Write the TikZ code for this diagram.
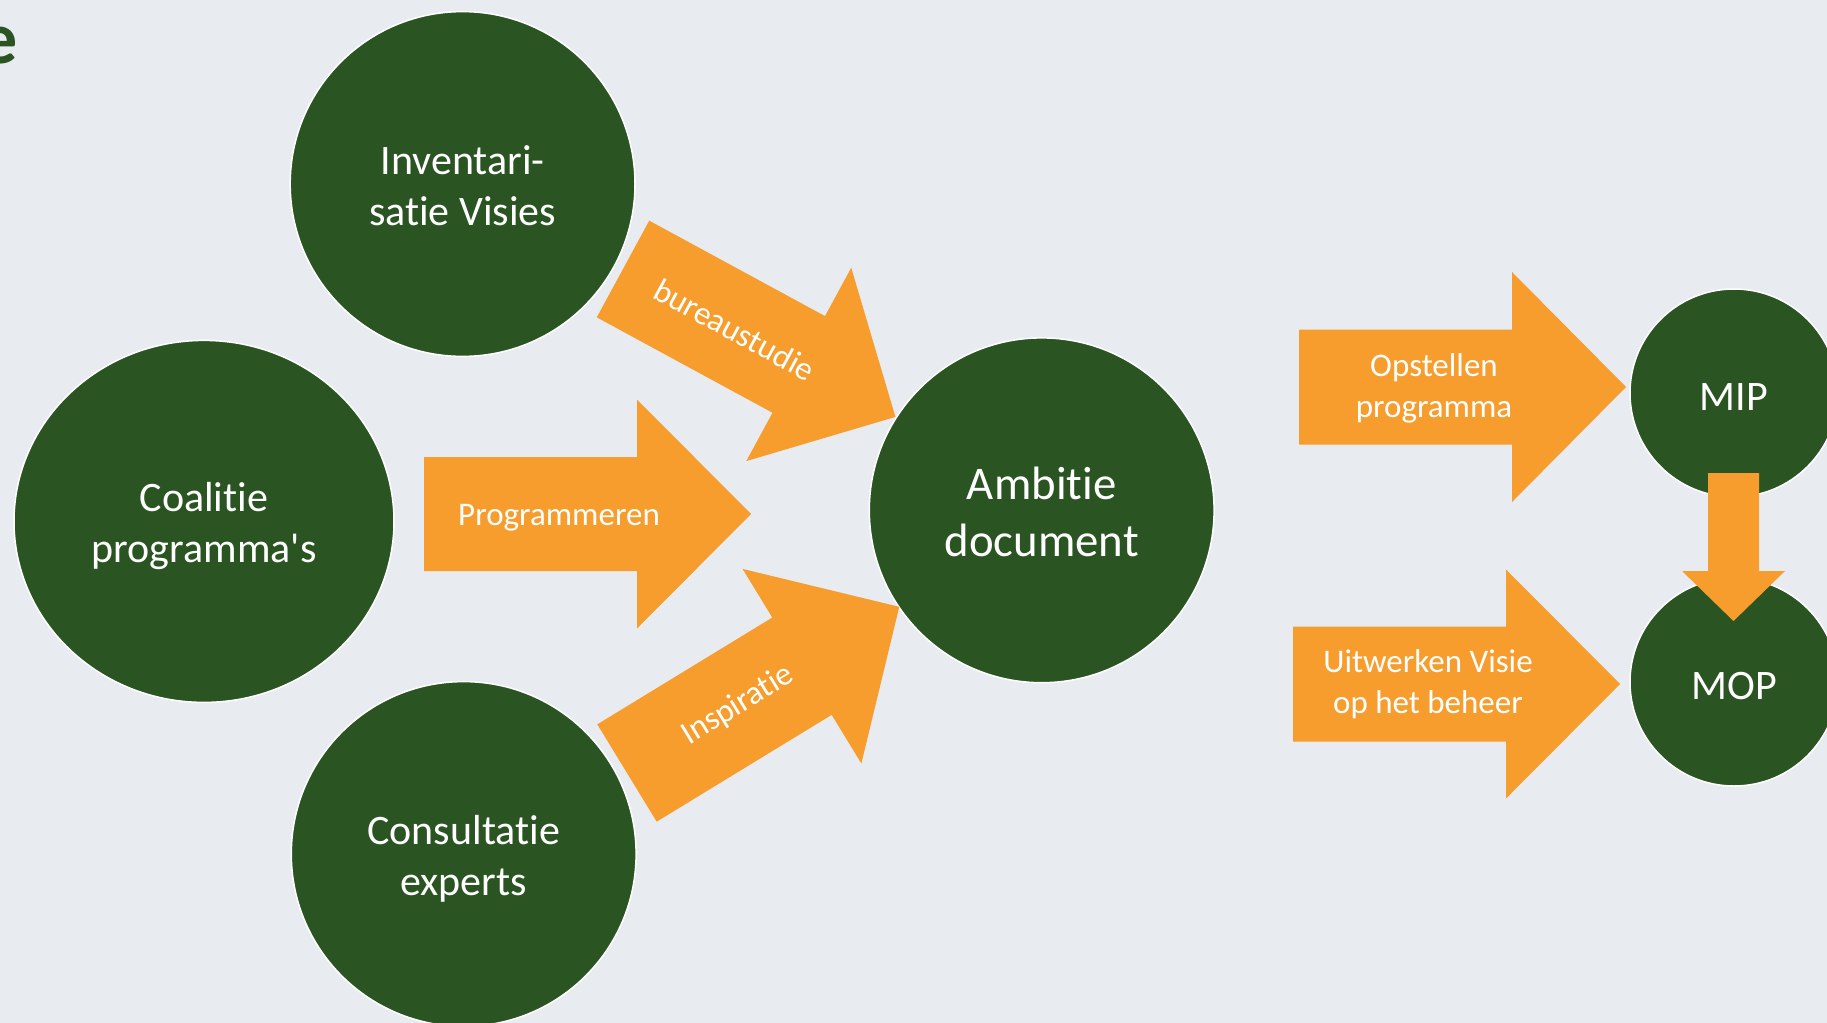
\documentclass[tikz,border=0pt]{standalone}
\usepackage{fontspec}
\setmainfont{Carlito}[Ligatures={NoCommon}]
\usetikzlibrary{shapes.geometric, positioning}

\definecolor{leafgreen}{RGB}{42,84,33}
\definecolor{flowOrange}{RGB}{246,157,46}
\definecolor{slidebg}{RGB}{232,235,240}

\begin{document}
\begin{tikzpicture}[x=0.5pt,y=-0.5pt,
  main node/.style={circle,fill=leafgreen,draw=white,line width=0.75pt,minimum size=172.4pt,inner sep=0pt},
  circle text/.style={text=white,align=center,inner sep=0pt,font=\fontsize{21}{25.6}\selectfont},
  arrow text/.style={text=white,align=center,inner sep=0pt,font=\fontsize{16.5}{20.4}\selectfont}]

        \useasboundingbox (0,0) rectangle (1827,1023);
        \clip (0,0) rectangle (1827,1023);
        \fill[slidebg] (0,0) rectangle (1827,1023);

        % cut off slide title
        \node[anchor=base east,inner sep=0pt,text=leafgreen,font=\bfseries\fontsize{37}{44}\selectfont] (title) at (18,63) {e};

        \node[main node,label={[circle text,yshift=-0.8pt]center:Inventari-\\satie Visies}] (inv) at (462.6,184) {};
        \node[main node,ellipse,minimum width=190pt,minimum height=181pt,
              label={[circle text,yshift=-2.4pt]center:Coalitie\\programma\textquotesingle s}] (coal) at (204,521.4) {};
        \node[main node,label={[circle text,yshift=-2.4pt]center:Consultatie\\experts}] (cons) at (463.7,854) {};
        \node[main node,label={[circle text,yshift=-0.7pt,font=\fontsize{23.4}{28.5}\selectfont]center:Ambitie\\document}] (amb) at (1041.7,510.3) {};
        \node[main node,minimum size=104pt,label={[circle text,yshift=-2pt]center:MIP}] (mip) at (1734,393) {};
        \node[main node,minimum size=104pt,label={[circle text,yshift=-2pt]center:MOP}] (mop) at (1734,682) {};

        % block arrows: tail, angle, shaft length, total length, half widths, label place
        \foreach \nm/\tx/\ty/\ang/\body/\len/\shaft/\head/\lpos/\loff/\lbl in {
            bureau/623/269/-28.5/200/310/55/110/127/0/bureaustudie,
            prog/424/514/0/213/327/57/114.5/135/3.5/Programmeren,
            insp/627/773/31.4/205/319/57/114/130/0/Inspiratie,
            opst/1299/387/0/213/327/57.5/115/135/1.5/{Opstellen\\programma},
            uitw/1293/684/0/213/327/57.5/114.5/135/0/{Uitwerken Visie\\op het beheer},
            down/1733.5/473/-90/98/148/25.5/51.5/49/0/{}}
        {
          \begin{scope}[shift={(\tx,\ty)},rotate=\ang]
            \fill[flowOrange] (0,-\shaft) -- (\body,-\shaft) -- (\body,-\head) -- (\len,0)
                              -- (\body,\head) -- (\body,\shaft) -- (0,\shaft) -- cycle;
            \node[arrow text,transform shape] (\nm) at (\lpos,\loff) {\lbl};
          \end{scope}
        }
\end{tikzpicture}
\end{document}
